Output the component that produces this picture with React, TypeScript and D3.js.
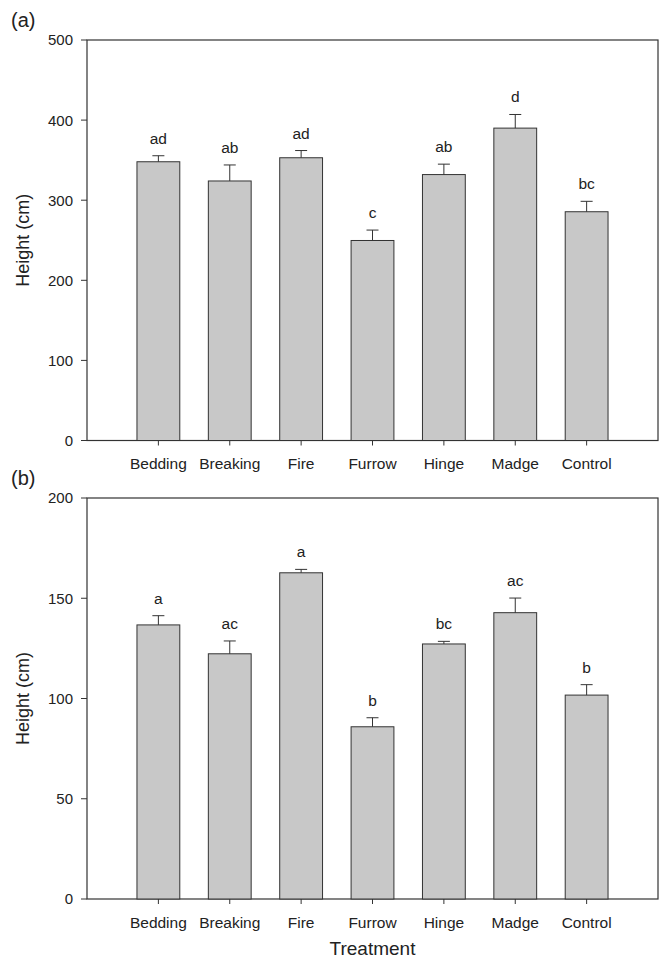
import * as d3 from 'd3';

const treatments = ['Bedding', 'Breaking', 'Fire', 'Furrow', 'Hinge', 'Madge', 'Control'];

const heightA = [348, 324, 353, 249.7, 332, 390, 285.6];
const errA = [7.5, 20, 9, 13, 13, 17, 13];
const lettersA = ['ad', 'ab', 'ad', 'c', 'ab', 'd', 'bc'];
const ticksA = [0, 100, 200, 300, 400, 500];

const heightB = [136.7, 122.3, 162.7, 85.9, 127.2, 142.8, 101.7];
const errB = [4.6, 6.4, 1.7, 4.5, 1.3, 7.3, 5.2];
const lettersB = ['a', 'ac', 'a', 'b', 'bc', 'ac', 'b'];
const ticksB = [0, 50, 100, 150, 200];

const FONT = 'Liberation Sans, Arial, sans-serif';
const left = 87, right = 658;

function Panel({ top, bottom, tag, values, errs, letters, ticks, yMax, showTitle }) {
  const x = d3.scaleLinear().domain([0, treatments.length + 1]).range([left, right]);
  const y = d3.scaleLinear().domain([0, yMax]).range([bottom, top]);
  const barW = (x(1) - x(0)) * 0.6;
  const ink = '#333';
  return (
    <g>
      <text x={11} y={top - 13} fontSize={20} fontFamily={FONT} fill="#222">{tag}</text>
      <rect x={left} y={top} width={right - left} height={bottom - top} fill="none" stroke={ink} strokeWidth={1.2} />
      {ticks.map(t => (
        <g key={t}>
          <line x1={left - 6} x2={left} y1={y(t)} y2={y(t)} stroke={ink} strokeWidth={1} />
          <text x={left - 14} y={y(t)} dy="0.36em" textAnchor="end" fontSize={15} fontFamily={FONT} fill="#222">{t}</text>
        </g>
      ))}
      <text transform={`translate(29,${(top + bottom) / 2}) rotate(-90)`} textAnchor="middle" fontSize={18} fontFamily={FONT} fill="#222">Height (cm)</text>
      {treatments.map((name, i) => {
        const cx = x(i + 1);
        const yTop = y(values[i]);
        const yErr = y(values[i] + errs[i]);
        return (
          <g key={name}>
            <rect x={cx - barW / 2} y={yTop} width={barW} height={bottom - yTop} fill="#c8c8c8" stroke={ink} strokeWidth={1} />
            <line x1={cx} x2={cx} y1={yTop} y2={yErr} stroke={ink} strokeWidth={1} />
            <line x1={cx - 6} x2={cx + 6} y1={yErr} y2={yErr} stroke={ink} strokeWidth={1} />
            <text x={cx} y={yErr - 12} textAnchor="middle" fontSize={15.5} fontFamily={FONT} fill="#222">{letters[i]}</text>
            <line x1={cx} x2={cx} y1={bottom} y2={bottom + 5} stroke={ink} strokeWidth={1} />
            <text x={cx} y={bottom + 28.5} textAnchor="middle" fontSize={15.5} fontFamily={FONT} fill="#222">{name}</text>
          </g>
        );
      })}
      {showTitle && (
        <text x={(left + right) / 2} y={bottom + 56} textAnchor="middle" fontSize={19} fontFamily={FONT} fill="#222">Treatment</text>
      )}
    </g>
  );
}

export default function App() {
  return (
    <svg width={660} height={960} style={{ position: 'absolute', left: 0, top: 0, background: '#fff' }}>
      <rect width={660} height={960} fill="#fff" />
      <Panel top={40} bottom={440.5} tag="(a)" values={heightA} errs={errA} letters={lettersA} ticks={ticksA} yMax={500} showTitle={false} />
      <Panel top={498} bottom={899} tag="(b)" values={heightB} errs={errB} letters={lettersB} ticks={ticksB} yMax={200} showTitle={true} />
    </svg>
  );
}
